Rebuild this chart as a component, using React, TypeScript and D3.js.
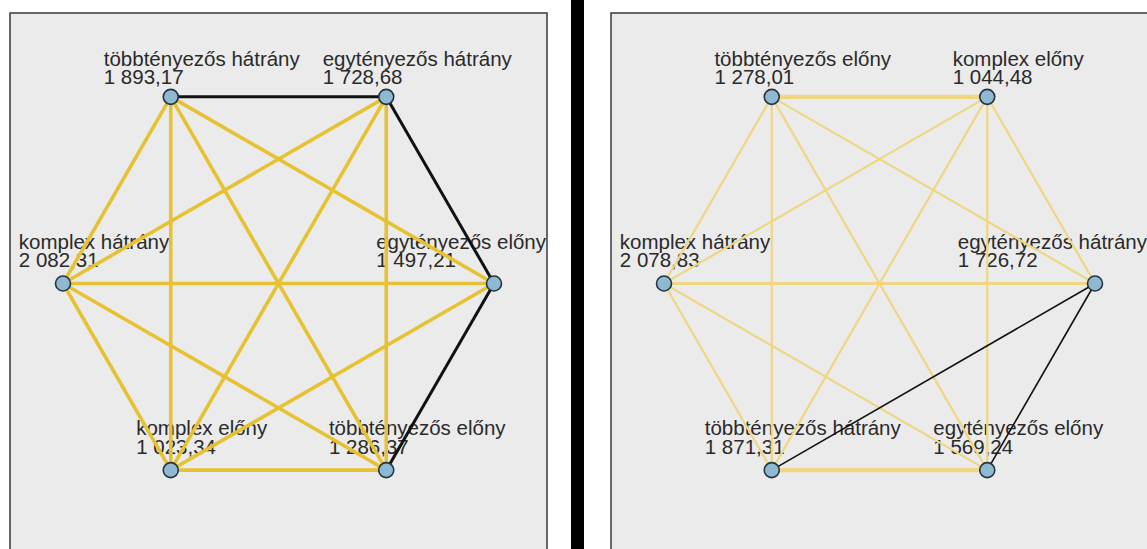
import React from 'react';
import * as d3 from 'd3';

// ---- data ----
const leftCategories = [
  'egytényezős előny',
  'egytényezős hátrány',
  'többtényezős hátrány',
  'komplex hátrány',
  'komplex előny',
  'többtényezős előny',
];
const leftValues = [1497.21, 1728.68, 1893.17, 2082.31, 1023.34, 1286.37];
const leftPath = ['többtényezős hátrány', 'egytényezős hátrány', 'egytényezős előny', 'többtényezős előny'];

const rightCategories = [
  'egytényezős hátrány',
  'komplex előny',
  'többtényezős előny',
  'komplex hátrány',
  'többtényezős hátrány',
  'egytényezős előny',
];
const rightValues = [1726.72, 1044.48, 1278.01, 2078.83, 1871.31, 1569.24];
const rightPath = ['többtényezős hátrány', 'egytényezős hátrány', 'egytényezős előny'];
// relative link strength for the right web (by node pair index in rightCategories)
const rightStrongPairs = [[1, 2], [4, 5]];
const rightMediumPairs = [[0, 3]];

const huLocale = d3.formatLocale({ decimal: ',', thousands: ' ', grouping: [3], currency: ['', ' Ft'] });
const fmt = huLocale.format(',.2f');

const FONT = '20.5px "Liberation Sans", Arial, sans-serif';
let ctx: CanvasRenderingContext2D | null = null;
function measure(t: string): number {
  if (!ctx) ctx = document.createElement('canvas').getContext('2d');
  if (!ctx) return t.length * 10;
  ctx.font = FONT;
  return ctx.measureText(t).width;
}

type PanelProps = {
  x0: number;
  categories: string[];
  values: number[];
  path: string[];
  gold: string;
  goldWidth: number;
  blackWidth: number;
  weight: (i: number, j: number) => number;
};

function Panel({ x0, categories, values, path, gold, goldWidth, blackWidth, weight }: PanelProps) {
  const frameW = 537;
  const frameTop = 13;
  const frameRight = x0 + frameW;
  const cx = x0 + 268.5;
  const cy = 283.5;
  const r = 215.5;
  const angle = d3.scaleLinear().domain([0, categories.length]).range([0, 2 * Math.PI]);
  const nodes = categories.map((c, i) => ({
    name: c,
    value: values[i],
    x: cx + r * Math.cos(angle(i)),
    y: cy - r * Math.sin(angle(i)),
  }));
  const pathSet = new Set<string>();
  for (let k = 0; k < path.length - 1; k++) {
    const a = categories.indexOf(path[k]);
    const b = categories.indexOf(path[k + 1]);
    pathSet.add(`${Math.min(a, b)}-${Math.max(a, b)}`);
  }
  const edges: { i: number; j: number; hl: boolean }[] = [];
  for (let i = 0; i < nodes.length; i++)
    for (let j = i + 1; j < nodes.length; j++) edges.push({ i, j, hl: pathSet.has(`${i}-${j}`) });

  return (
    <g>
      <rect x={x0} y={frameTop} width={frameW} height={600} fill="#ebebeb" stroke="#3a3a3a" strokeWidth={1.5} />
      {nodes.map((n, k) => {
        const w = Math.max(measure(n.name), measure(fmt(n.value)));
        let left = n.x + 31 - w / 2;
        if (left + w > frameRight - 1) left = frameRight - 1 - w;
        const upper = n.y < cy - 10;
        const y1 = upper ? n.y - 31 : n.y - 35;
        const y2 = upper ? n.y - 12.5 : n.y - 16.5;
        return (
          <text key={'t' + k} style={{ font: FONT }} fill="#2a2a2a">
            <tspan x={left} y={y1}>{n.name}</tspan>
            <tspan x={left} y={y2}>{fmt(n.value)}</tspan>
          </text>
        );
      })}
      {edges
        .filter((e) => !e.hl)
        .map((e, k) => (
          <line
            key={'g' + k}
            x1={nodes[e.i].x}
            y1={nodes[e.i].y}
            x2={nodes[e.j].x}
            y2={nodes[e.j].y}
            stroke={gold}
            strokeWidth={goldWidth * weight(e.i, e.j)}
          />
        ))}
      {edges
        .filter((e) => e.hl)
        .map((e, k) => (
          <line
            key={'b' + k}
            x1={nodes[e.i].x}
            y1={nodes[e.i].y}
            x2={nodes[e.j].x}
            y2={nodes[e.j].y}
            stroke="#111"
            strokeWidth={blackWidth}
          />
        ))}
      {nodes.map((n, k) => (
        <circle key={'c' + k} cx={n.x} cy={n.y} r={7.5} fill="#8fb9d3" stroke="#26343d" strokeWidth={1.6} />
      ))}
    </g>
  );
}

export default function App() {
  const hasPair = (pairs: number[][], i: number, j: number) =>
    pairs.some(([a, b]) => (a === i && b === j) || (a === j && b === i));
  return (
    <svg
      width={1147}
      height={549}
      style={{ position: 'absolute', left: 0, top: 0, background: '#fff' }}
    >
      <Panel
        x0={10}
        categories={leftCategories}
        values={leftValues}
        path={leftPath}
        gold="#e6c233"
        goldWidth={3.6}
        blackWidth={3}
        weight={() => 1}
      />
      <rect x={571} y={0} width={13} height={549} fill="#000" />
      <Panel
        x0={611}
        categories={rightCategories}
        values={rightValues}
        path={rightPath}
        gold="#eed683"
        goldWidth={2.2}
        blackWidth={1.6}
        weight={(i, j) => (hasPair(rightStrongPairs, i, j) ? 2 : hasPair(rightMediumPairs, i, j) ? 1.4 : 1)}
      />
    </svg>
  );
}
